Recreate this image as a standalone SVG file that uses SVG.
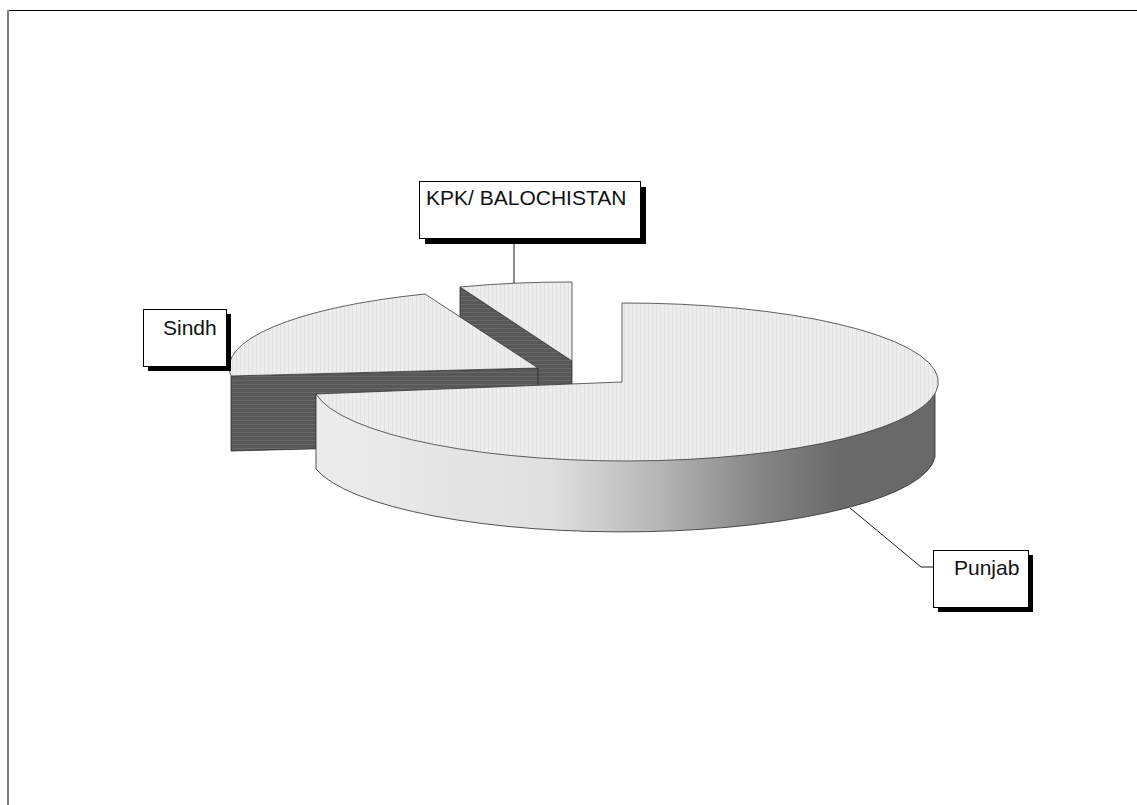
<svg xmlns="http://www.w3.org/2000/svg" width="1137" height="805" viewBox="0 0 1137 805">
<style>
.top{fill:url(#topPat);stroke:#3a3a3a;stroke-width:0.8}
.dark{fill:url(#darkPat);stroke:#2a2a2a;stroke-width:0.8}
.box{fill:#ffffff;stroke:#000000;stroke-width:1}
.shadow{fill:#000000}
.lbl{font-family:"Liberation Sans",Arial,sans-serif;font-size:21px;fill:#111111}
.lead{fill:none;stroke:#1a1a1a;stroke-width:1}
</style>
<defs>
<pattern id="topPat" patternUnits="userSpaceOnUse" width="4" height="4">
<rect width="4" height="4" fill="#ededed"/>
<rect x="0" width="1" height="4" fill="#e1e1e1"/>
</pattern>
<pattern id="darkPat" patternUnits="userSpaceOnUse" width="4" height="4">
<rect width="4" height="4" fill="#585858"/>
<rect y="0" width="4" height="1" fill="#686868"/>
</pattern>
<linearGradient id="wallGrad" gradientUnits="userSpaceOnUse" x1="316" y1="0" x2="935" y2="0">
<stop offset="0" stop-color="#ececec"/>
<stop offset="0.38" stop-color="#e0e0e0"/>
<stop offset="0.56" stop-color="#b4b4b4"/>
<stop offset="0.72" stop-color="#848484"/>
<stop offset="0.85" stop-color="#6a6a6a"/>
<stop offset="1" stop-color="#686868"/>
</linearGradient>
</defs>
<rect width="1137" height="805" fill="#ffffff"/>
<g id="frame">
<line x1="8" y1="10.5" x2="1137" y2="10.5" stroke="#000000" stroke-width="1"/>
<line x1="8" y1="10" x2="8" y2="805" stroke="#808080" stroke-width="2"/>
</g>
<g id="slice-kpk">
<path class="dark" d="M460,287 L572,361 L572,436 L460,362 Z"/>
<path class="top" d="M572,361 L460,287 A312,79 0 0 1 572,282 Z"/>
</g>
<g id="slice-sindh">
<path class="dark" d="M231,376 L538,368 L538,443 L231,451 Z"/>
<path class="top" d="M538,368 L231,376 A312,79 0 0 1 425,294 Z"/>
</g>
<g id="slice-punjab">
<path d="M935,382 A313,79 0 0 1 316,394 L316,469 A313,79 0 0 0 935,457 Z" fill="url(#wallGrad)" stroke="#2a2a2a" stroke-width="0.8"/>
<path class="top" d="M622,382 L622,303 A313,79 0 1 1 316,394 Z"/>
</g>
<g id="connectors">
<line class="lead" x1="514" y1="238" x2="514" y2="283"/>
<polyline class="lead" points="850,508 921,567 933,567"/>
</g>
<g id="label-kpk">
<rect class="shadow" x="425" y="187" width="221" height="57"/>
<rect class="box" x="419.5" y="181.5" width="221" height="57"/>
<text class="lbl" x="426" y="205">KPK/ BALOCHISTAN</text>
</g>
<g id="label-sindh">
<rect class="shadow" x="148" y="314" width="83" height="57"/>
<rect class="box" x="143.5" y="309.5" width="83" height="57"/>
<text class="lbl" x="163" y="335">Sindh</text>
</g>
<g id="label-punjab">
<rect class="shadow" x="938" y="555" width="95" height="57"/>
<rect class="box" x="933.5" y="550.5" width="95" height="57"/>
<text class="lbl" x="954" y="575">Punjab</text>
</g>
</svg>
